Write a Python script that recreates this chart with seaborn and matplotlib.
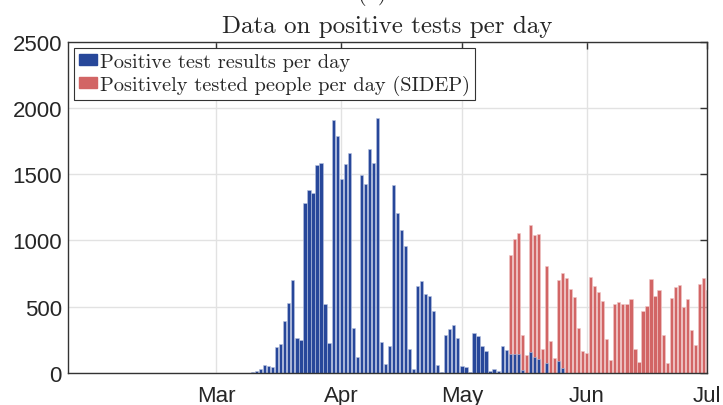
"""
Positive tests per day - blue: test results, red: SIDEP
"""

import matplotlib

matplotlib.use("Agg")
import matplotlib.dates as mdates
import matplotlib.pyplot as plt
import pandas as pd
import seaborn as sns
from matplotlib.patches import Patch

# Data
blue_start = "2020-03-10"
blue_values = [
    5, 12, 28, 58, 50, 45, 193, 216, 392, 525, 700, 261, 246, 1279, 1382,
    1357, 1568, 1583, 518, 224, 1912, 1787,
    1463, 1573, 1663, 342, 118, 1495, 1425, 1686, 1586, 1927, 236, 68, 201,
    1420, 1206, 1078, 955, 181, 28, 656, 694, 598, 580, 465, 63, 10, 286,
    332, 359, 261,
    50, 43, 8, 299, 276, 204, 163, 13, 30, 15, 206, 173, 146, 146, 146, 20,
    0, 158, 118, 108, 0, 78, 0, 0, 90, 40,
]
red_start = "2020-05-13"
red_values = [
    892, 1008, 1055, 284, 136, 1116, 1038, 1045, 178, 807, 239, 110, 700,
    754, 720, 633, 573, 339, 168, 153, 721, 653, 608, 543, 259, 95, 518, 535,
    520, 520, 558, 181, 80, 467, 503, 711, 578, 628, 289, 73, 563, 648, 663,
    495, 560, 327, 211, 668, 714, 628,
]
blue_label = "Positive test results per day"
red_label = "Positively tested people per day (SIDEP)"
y_ticks = [0, 500, 1000, 1500, 2000, 2500]

blue_df = pd.DataFrame(
    {"date": pd.date_range(blue_start, periods=len(blue_values), freq="D"),
     "count": blue_values}
)
red_df = pd.DataFrame(
    {"date": pd.date_range(red_start, periods=len(red_values), freq="D"),
     "count": red_values}
)

BLUE = "#27479a"
RED = "#d26565"

sns.set_theme(style="white")
plt.rcParams["font.family"] = ["Liberation Sans", "DejaVu Sans"]
serif = ["cmr10", "DejaVu Serif"]

fig = plt.figure(figsize=(7.23, 4.06), dpi=100)
ax = fig.add_axes([0.0934, 0.079, 0.885, 0.816])

sns.histplot(
    red_df, x="date", weights="count", discrete=True, shrink=0.8,
    color=RED, alpha=1, edgecolor="#f0c8c8", linewidth=0.4, ax=ax,
)
sns.histplot(
    blue_df, x="date", weights="count", discrete=True, shrink=0.8,
    color=BLUE, alpha=1, edgecolor="#b8c4e0", linewidth=0.4, ax=ax,
)

ax.set_xlim(pd.Timestamp("2020-01-24"), pd.Timestamp("2020-07-01"))
ax.set_ylim(0, 2500)
ax.set_yticks(y_ticks)
ax.xaxis.set_major_locator(mdates.MonthLocator(bymonth=[3, 4, 5, 6, 7]))
ax.xaxis.set_major_formatter(mdates.DateFormatter("%b"))
ax.set_xlabel("")
ax.set_ylabel("")

ax.set_axisbelow(True)
ax.grid(True, color="#e2e2e2", linewidth=1)
for sp in ax.spines.values():
    sp.set_visible(True)
    sp.set_color("#333333")
    sp.set_linewidth(1)
ax.tick_params(
    direction="in", top=True, right=True, length=5, width=1,
    color="#333333", labelsize=16, labelcolor="#262626",
)
ax.tick_params(axis="x", pad=9)
ax.tick_params(axis="y", pad=4)

ax.set_title("Data on positive tests per day", fontsize=18, family=serif, pad=7)
fig.text(0.516, 1.0, "(b)", ha="center", va="baseline", fontsize=16, family=serif)

handles = [Patch(color=BLUE), Patch(color=RED)]
leg = ax.legend(
    handles, [blue_label, red_label], loc="upper left",
    prop={"family": serif, "size": 14.7}, frameon=True, fancybox=False,
    framealpha=1, edgecolor="#333333", handlelength=0.9, handleheight=0.45,
    handletextpad=0.15, borderpad=0.25, labelspacing=0.2, borderaxespad=0.3,
)
leg.get_frame().set_linewidth(0.8)

plt.savefig("out.png", dpi=100)
plt.close()
